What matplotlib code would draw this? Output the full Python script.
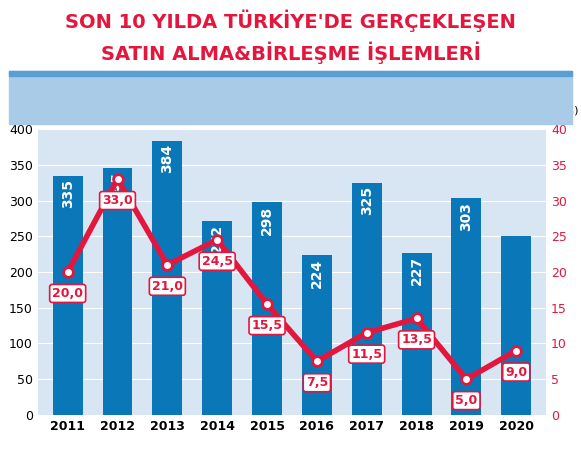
import matplotlib
matplotlib.use("Agg")
import matplotlib.pyplot as plt
from matplotlib.patches import Rectangle

years = ["2011","2012","2013","2014","2015","2016","2017","2018","2019","2020"]
deals = [335,345,384,272,298,224,325,227,303,250]
deal_labels = ["335","345","384","272","298","224","325","227","303",""]
size = [20.0,33.0,21.0,24.5,15.5,7.5,11.5,13.5,5.0,9.0]
size_labels = ["20,0","33,0","21,0","24,5","15,5","7,5","11,5","13,5","5,0","9,0"]

blue = "#0a78b8"; red = "#e3173e"
fig = plt.figure(figsize=(5.81,4.61), dpi=100)
fig.patch.set_facecolor("white")
fig.text(0.5,0.955,"SON 10 YILDA TÜRKİYE'DE GERÇEKLEŞEN",ha="center",va="center",color=red,fontsize=14,fontweight="bold")
fig.text(0.5,0.885,"SATIN ALMA&BİRLEŞME İŞLEMLERİ",ha="center",va="center",color=red,fontsize=14,fontweight="bold")
# header band
fig.patches.append(Rectangle((0.015,0.73),0.97,0.115,transform=fig.transFigure,color="#a9cbe8",zorder=0))
fig.patches.append(Rectangle((0.015,0.835),0.97,0.012,transform=fig.transFigure,color="#5a9fd4",zorder=0))

ax = fig.add_axes([0.065,0.1,0.875,0.62])
ax.set_facecolor("#d8e6f3")
x = range(len(years))
ax.bar(x,deals,width=0.6,color=blue,zorder=2)
for i,(v,l) in enumerate(zip(deals,deal_labels)):
    if l:
        ax.text(i,v-5,l,rotation=90,ha="center",va="top",color="white",fontsize=10,fontweight="bold",zorder=3)
ax.set_ylim(0,400); ax.set_xlim(-0.6,9.6)
ax.set_yticks(range(0,401,50))
ax.set_xticks(list(x)); ax.set_xticklabels(years,fontweight="bold",fontsize=9)
ax.tick_params(axis="y",labelsize=9,length=0)
ax.tick_params(axis="x",length=0)
ax.grid(axis="y",color="white",lw=0.8,zorder=1)
for s in ax.spines.values(): s.set_visible(False)
ax2 = ax.twinx()
ax2.set_ylim(0,40); ax2.set_yticks(range(0,41,5))
ax2.tick_params(axis="y",labelsize=9,length=0,colors=red)
for s in ax2.spines.values(): s.set_visible(False)
ax2.plot(x,size,color=red,lw=4,zorder=4,marker="o",markersize=7,markerfacecolor="white",markeredgecolor=red,markeredgewidth=2)
for i,(v,l) in enumerate(zip(size,size_labels)):
    ax2.text(i,v-3,l,ha="center",va="center",color=red,fontsize=9,fontweight="bold",zorder=5,
             bbox=dict(boxstyle="round,pad=0.2",fc="white",ec=red,lw=1.2))
# legend box
lax = fig.add_axes([0.545,0.735,0.44,0.05]); lax.axis("off"); lax.set_xlim(0,1); lax.set_ylim(0,1)
lax.add_patch(Rectangle((0,0),1,1,color="white"))
lax.add_patch(Rectangle((0.03,0.2),0.15,0.6,color=blue))
lax.text(0.195,0.5,"İşlem adedi",va="center",fontsize=8)
lax.plot([0.5,0.58],[0.5,0.5],color=red,lw=6,solid_capstyle="round")
lax.plot([0.555],[0.5],"o",color="white",ms=4)
lax.text(0.6,0.5,"Büyüklük (Milyar $)",va="center",fontsize=8)
fig.savefig("out.png",dpi=100)
